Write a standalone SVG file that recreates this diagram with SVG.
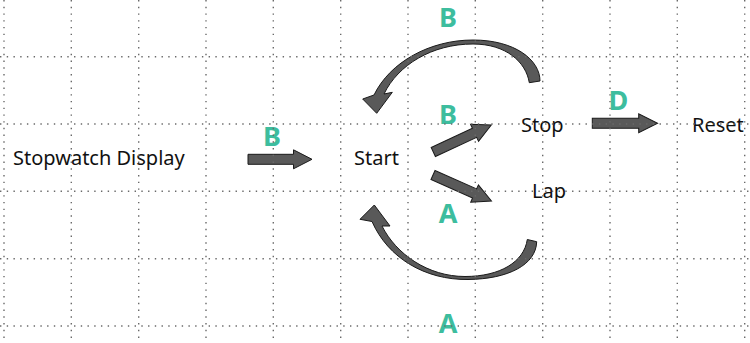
<svg xmlns="http://www.w3.org/2000/svg" width="750" height="343" viewBox="0 0 750 343">
  <defs>
    <style>
      .node { font-family: "Noto Sans", "Open Sans", "Liberation Sans", sans-serif; font-size: 20px; fill: #111; }
      .lbl { font-family: "Noto Sans", "Open Sans", "Liberation Sans", sans-serif; font-size: 27px; font-weight: bold; fill: #3dbd9e; text-anchor: middle; }
      .arr { fill: #595959; stroke: #1a1a1a; stroke-width: 1; stroke-linejoin: miter; }
      .grid { stroke: #6a6a6a; stroke-width: 1.4; stroke-dasharray: 1.4 5.33; fill: none; }
    </style>
    <path id="blockArrow" d="M0,-5 L45.5,-5 L45.5,-9.5 L64,0 L45.5,9.5 L45.5,5 L0,5 Z"/>
  </defs>
  <rect width="750" height="343" fill="#ffffff"/>

  <g id="node-display"><text class="node" x="13" y="165">Stopwatch Display</text></g>
  <g id="node-start"><text class="node" x="354" y="165">Start</text></g>
  <g id="node-stop"><text class="node" x="521" y="132">Stop</text></g>
  <g id="node-lap"><text class="node" x="532" y="198">Lap</text></g>
  <g id="node-reset"><text class="node" x="692" y="132">Reset</text></g>

  <g id="connectors">
    <use href="#blockArrow" class="arr" transform="translate(248,159.3)"/>
    <use href="#blockArrow" class="arr" transform="translate(592.3,123.3) scale(1.02,1)"/>
    <use href="#blockArrow" class="arr" transform="translate(433.3,152) rotate(-25)"/>
    <use href="#blockArrow" class="arr" transform="translate(433,175) rotate(24)"/>
    <path class="arr" d="M540,81 C540,60 515,40 473,40 C430,40 390,62 374,95 L362.7,99 L376.7,113.3 L392.3,92.3 L384,94 C398,65 432,44 473,44 C506,44 526,62 529.3,82.7 Z"/>
    <path class="arr" d="M536.7,241.7 C536,265 508,279 468,279.5 C425,280 388,258 372,221.5 L360,219.3 L374.3,205 L390,226 L382,226 C396,254 428,276.5 465,276.5 C500,276.5 524,262 527.3,239.5 Z"/>
    <text class="lbl" x="448" y="27">B</text>
    <text class="lbl" x="272" y="145.5">B</text>
    <text class="lbl" x="448" y="123.5">B</text>
    <text class="lbl" x="618.5" y="110">D</text>
    <text class="lbl" x="448" y="223">A</text>
    <text class="lbl" x="448" y="333">A</text>
  </g>

  <g id="grid">
    <path class="grid" d="M0,56.7 H750 M0,124 H750 M0,191.3 H750 M0,258.7 H750 M0,326 H750"/>
    <path class="grid" d="M4,0 V343 M71.3,0 V343 M138.7,0 V343 M206,0 V343 M273.3,0 V343 M340.7,0 V343 M408,0 V343 M475.3,0 V343 M542.7,0 V343 M610,0 V343 M677.3,0 V343 M744.7,0 V343"/>
  </g>
</svg>
